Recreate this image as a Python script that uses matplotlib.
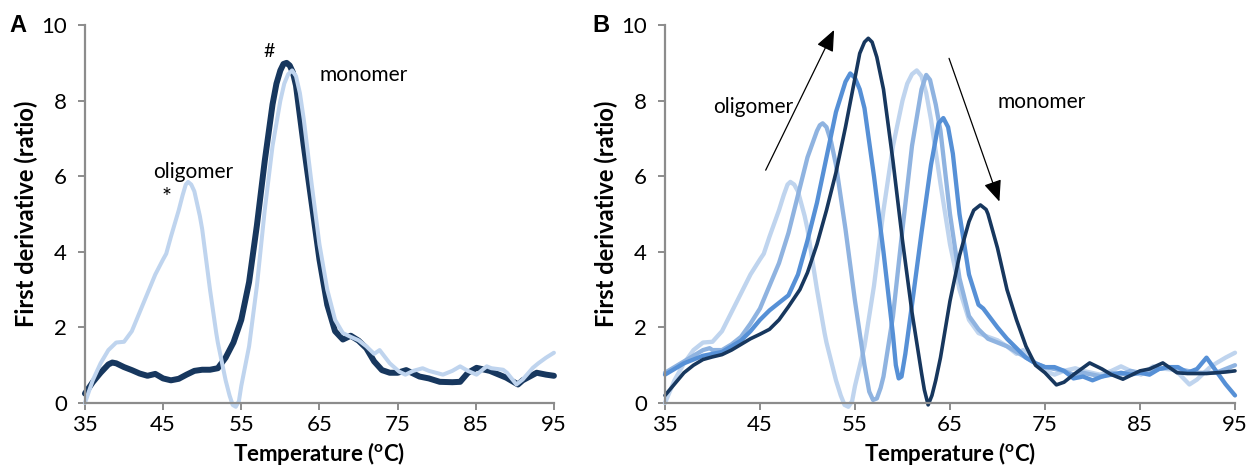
import numpy as np
import matplotlib.pyplot as plt

plt.rcParams['font.family'] = ['Lato', 'DejaVu Sans']
plt.rcParams['mathtext.fontset'] = 'custom'
plt.rcParams['mathtext.rm'] = 'Lato'
plt.rcParams['mathtext.bf'] = 'Lato:bold'

# light curve (oligomer-containing sample), shared by A and B
light_x = [35, 36, 37, 38, 39, 40, 41, 42, 43, 44, 45, 45.4, 46, 47, 47.5, 47.9, 48.2, 48.6, 49, 49.7, 50, 51,
           51.8, 52, 53, 53.5, 53.9, 54.3, 54.7, 55, 56, 57, 58, 59, 60, 60.5, 61, 61.5, 62, 62.5, 63, 64, 65,
           66, 67, 68, 69, 70, 71, 72, 72.7, 74, 75.2, 76, 77, 78.2, 79, 80.8, 82, 83, 84, 85.1, 86.4, 87,
           88.5, 89, 90.2, 91, 92.3, 93, 94, 95]
light_y = [0.0, 0.6, 1.05, 1.4, 1.6, 1.62, 1.9, 2.4, 2.9, 3.4, 3.8, 3.95, 4.4, 5.1, 5.5, 5.78, 5.85, 5.78, 5.6, 4.95,
           4.6, 3.0, 1.85, 1.6, 0.6, 0.2, -0.05, -0.1, 0.05, 0.45, 1.5, 3.1, 5.1, 6.8, 8.0, 8.45, 8.7, 8.8, 8.65,
           8.2, 7.5, 5.8, 4.2, 3.0, 2.2, 1.85, 1.75, 1.66, 1.5, 1.3, 1.4, 1.05, 0.83, 0.75, 0.85, 0.92, 0.85, 0.75,
           0.85, 0.97, 0.85, 0.75, 0.97, 0.92, 0.88, 0.8, 0.49, 0.62, 0.93, 1.05, 1.2, 1.33]

# panel A dark curve (monomer)
darkA_x = [35, 36, 37, 38, 38.5, 39, 40, 41, 42, 43, 44, 45, 46, 47, 48, 49, 50, 51, 52, 53, 54, 55, 56, 57,
           58, 59, 59.5, 60, 60.4, 60.8, 61.2, 61.6, 62, 63, 64, 65, 66, 67, 68, 69, 70, 71, 72, 73, 74, 75,
           76.1, 77.8, 79, 80.4, 82, 83, 84, 85.1, 86.8, 88.9, 90.4, 91, 92.8, 94, 95]
darkA_y = [0.25, 0.55, 0.8, 1.02, 1.07, 1.05, 0.95, 0.87, 0.78, 0.72, 0.77, 0.65, 0.6, 0.64, 0.75, 0.85, 0.88, 0.88,
           0.92, 1.2, 1.6, 2.2, 3.2, 4.7, 6.4, 7.9, 8.45, 8.8, 8.97, 9.0, 8.93, 8.75, 8.4, 6.8, 5.3, 3.8, 2.6, 1.9,
           1.68, 1.78, 1.65, 1.45, 1.1, 0.87, 0.8, 0.8, 0.87, 0.7, 0.65, 0.56, 0.55, 0.56, 0.8, 0.93, 0.85, 0.67,
           0.49, 0.6, 0.8, 0.75, 0.72]

# panel B medium-light curve
b2_x = [35, 36, 37, 38, 39, 39.7, 40, 41, 42, 43, 44, 45, 46, 47, 48, 49, 50, 51, 51.3, 51.6, 52, 52.5, 53, 54,
        55, 56, 56.5, 56.9, 57.3, 57.7, 58, 59, 60, 61, 62, 62.5, 62.9, 63.5, 64, 65, 66, 67, 68, 69, 70, 71,
        72, 73, 74, 75, 76, 77, 78, 79, 80, 81, 82, 83, 84, 85, 86, 87, 88, 89, 90, 91, 92, 93, 94, 95]
b2_y = [0.8, 0.95, 1.1, 1.25, 1.4, 1.45, 1.4, 1.4, 1.55, 1.75, 2.1, 2.5, 3.1, 3.7, 4.5, 5.5, 6.5, 7.2, 7.35, 7.4,
        7.3, 6.9, 6.3, 4.6, 2.7, 1.0, 0.3, 0.08, 0.12, 0.4, 0.7, 2.3, 4.6, 6.8, 8.3, 8.68, 8.55, 7.9, 7.2, 5.0,
        3.3, 2.3, 1.95, 1.7, 1.6, 1.5, 1.35, 1.2, 1.05, 0.95, 0.9, 0.85, 0.75, 0.8, 0.75, 0.7, 0.8, 0.75, 0.85,
        0.8, 0.85, 0.9, 0.95, 0.9, 0.85, 0.8, 0.8, 0.8, 0.9, 1.0]

# panel B medium curve
b3_x = [35, 36, 37, 38, 39, 40, 41, 42, 43, 44, 45, 46, 47, 48, 49, 50, 51, 52, 53, 54, 54.5, 55, 55.5, 56,
        57, 58, 59, 59.3, 59.6, 59.9, 60.3, 61, 62, 63, 63.8, 64.3, 64.8, 65.3, 66, 67, 68, 68.5, 70, 71, 72,
        73, 74, 75, 76, 77, 78, 79, 80, 81, 82, 83, 84, 85, 86, 87, 88, 89, 90, 91, 92, 93, 94, 95]
b3_y = [0.75, 0.9, 1.05, 1.15, 1.25, 1.3, 1.35, 1.5, 1.65, 1.9, 2.2, 2.45, 2.65, 2.85, 3.4, 4.3, 5.3, 6.5, 7.7,
        8.5, 8.72, 8.6, 8.3, 7.8, 6.0, 4.0, 1.8, 1.0, 0.65, 0.7, 1.3, 2.6, 4.5, 6.3, 7.4, 7.54, 7.3, 6.6, 5.0,
        3.4, 2.6, 2.5, 2.0, 1.7, 1.45, 1.2, 1.05, 0.95, 0.95, 0.85, 0.65, 0.7, 0.6, 0.7, 0.75, 0.8, 0.75, 0.8,
        0.75, 0.9, 0.95, 0.95, 0.8, 0.9, 1.2, 0.85, 0.5, 0.2]

# panel B dark curve
b4_x = [35, 36, 37, 38, 39, 40, 41, 42, 43, 44, 45, 46, 47, 48, 49.2, 50, 51, 52, 53, 54, 55, 55.5, 56, 56.4,
        56.8, 57.3, 58, 59, 60, 61, 62, 62.3, 62.7, 63.1, 63.5, 64, 65, 66, 67, 67.5, 68.2, 68.8, 69, 70, 71,
        72, 73, 74, 75, 76.2, 77, 78, 79.7, 81, 82, 83.2, 85, 86, 87.4, 88.9, 90, 92, 93, 94, 95]
b4_y = [0.2, 0.5, 0.8, 1.0, 1.15, 1.22, 1.28, 1.4, 1.55, 1.7, 1.82, 1.95, 2.2, 2.55, 3.0, 3.45, 4.2, 5.1, 6.1, 7.3,
        8.6, 9.25, 9.55, 9.65, 9.55, 9.15, 8.3, 6.4, 4.3, 2.4, 0.8, 0.35, -0.05, 0.2, 0.6, 1.2, 2.7, 3.9, 4.8,
        5.1, 5.24, 5.12, 5.0, 4.1, 3.0, 2.2, 1.5, 1.0, 0.8, 0.48, 0.55, 0.75, 1.06, 0.9, 0.75, 0.63, 0.85, 0.9,
        1.06, 0.8, 0.78, 0.78, 0.8, 0.82, 0.85]

c_light = '#bfd4ee'
c_mlight = '#8fb3e0'
c_med = '#5690d6'
c_dark = '#17375e'
grey = '#8c8c8c'

fig = plt.figure(figsize=(12.49, 4.73), dpi=100)
axA = fig.add_axes([0.068, 0.148, 0.3755, 0.799])
axB = fig.add_axes([0.5324, 0.148, 0.4564, 0.799])

for ax in (axA, axB):
    ax.set_xlim(35, 95)
    ax.set_ylim(0, 10)
    ax.set_xticks(range(35, 96, 10))
    ax.set_yticks(range(0, 11, 2))
    for s in ('top', 'right'):
        ax.spines[s].set_visible(False)
    for s in ('left', 'bottom'):
        ax.spines[s].set_color(grey)
        ax.spines[s].set_linewidth(1.6)
    ax.tick_params(direction='out', length=5, width=1.4, color=grey, labelsize=16, pad=4)
    ax.tick_params(axis='y', pad=8)
    ax.set_xlabel(r'Temperature ($\mathbf{^o}$C)', fontsize=16, fontweight='bold', labelpad=3)
    ax.set_ylabel('First derivative (ratio)', fontsize=17, fontweight='bold', labelpad=2)

line_kw = dict(clip_on=False, solid_capstyle='round', solid_joinstyle='round')

# panel A
axA.plot(darkA_x, darkA_y, color=c_dark, lw=4.3, **line_kw)
axA.plot(light_x, light_y, color=c_light, lw=2.9, **line_kw)
axA.text(58.5, 9.3, '#', fontsize=14, ha='center', va='center')
axA.text(65.0, 8.68, 'monomer', fontsize=15, ha='left', va='center')
axA.text(43.7, 6.12, 'oligomer', fontsize=15, ha='left', va='center')
axA.text(45.5, 5.72, '*', fontsize=17, ha='center', va='top')

# panel B
axB.plot(light_x, light_y, color=c_light, lw=3.1, **line_kw)
axB.plot(b2_x, b2_y, color=c_mlight, lw=3.1, **line_kw)
axB.plot(b3_x, b3_y, color=c_med, lw=3.1, **line_kw)
axB.plot(b4_x, b4_y, color=c_dark, lw=2.6, **line_kw)

arrow = dict(arrowstyle='-|>,head_length=1.3,head_width=0.55', color='black', lw=0.9, shrinkA=0, shrinkB=0)
axB.annotate('', xy=(52.8, 9.87), xytext=(45.6, 6.16), arrowprops=arrow, annotation_clip=False)
axB.annotate('', xy=(70.2, 5.33), xytext=(64.9, 9.12), arrowprops=arrow, annotation_clip=False)
axB.text(40.05, 7.84, 'oligomer', fontsize=15, ha='left', va='center')
axB.text(70.0, 7.97, 'monomer', fontsize=15, ha='left', va='center')

fig.text(18 / 1249, 1 - 25 / 473, 'A', fontsize=17, fontweight='bold', ha='center', va='center',
         family='Liberation Sans')
fig.text(601 / 1249, 1 - 25 / 473, 'B', fontsize=17, fontweight='bold', ha='center', va='center',
         family='Liberation Sans')

fig.savefig('out.png', dpi=100)
